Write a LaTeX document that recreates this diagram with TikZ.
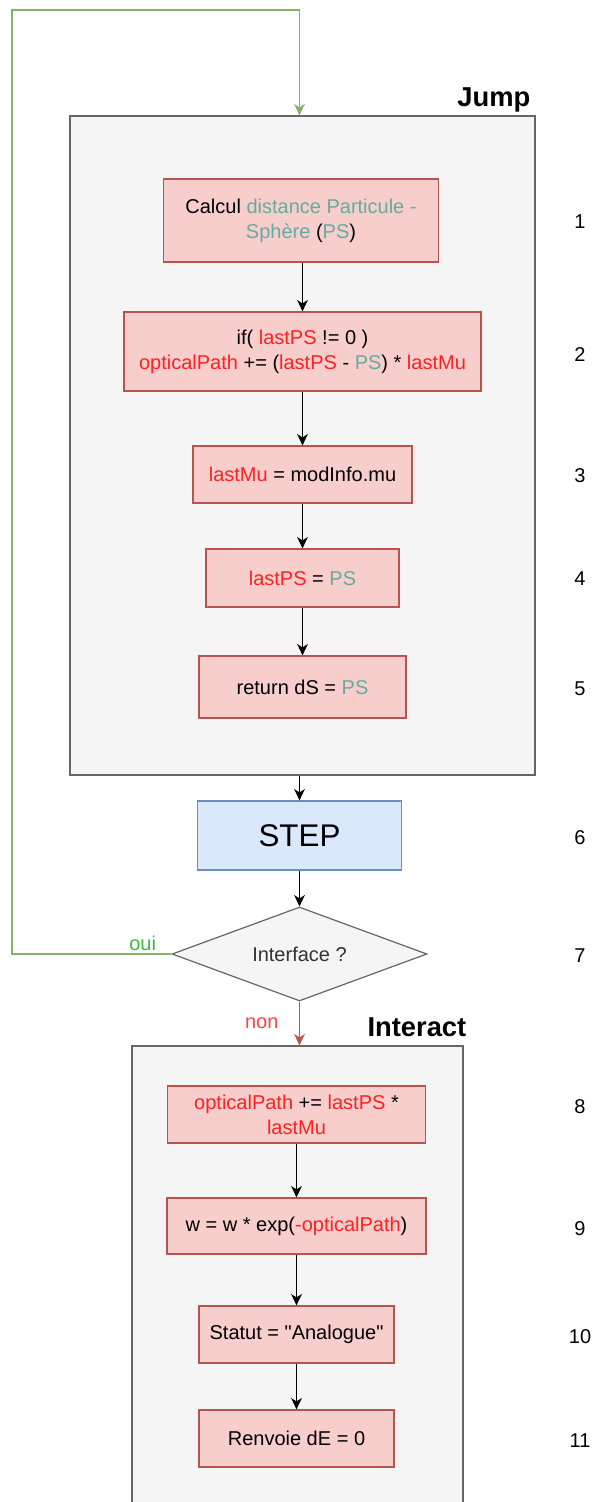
\documentclass[tikz,border=0pt]{standalone}
\usepackage{fontspec}
\setmainfont{Liberation Sans}
\usepackage{tikz}
\usetikzlibrary{positioning,shapes.geometric,arrows.meta}
\definecolor{opfill}{HTML}{F8CECC}
\definecolor{opline}{HTML}{B85450}
\definecolor{panelfill}{HTML}{F5F5F5}
\definecolor{panelline}{HTML}{666666}
\definecolor{stepfill}{HTML}{DAE8FC}
\definecolor{stepline}{HTML}{6C8EBF}
\definecolor{loopgreen}{HTML}{82B366}
\definecolor{ouigreen}{HTML}{3DB83D}
\definecolor{varred}{HTML}{FF2020}
\definecolor{geogreen}{HTML}{67AB9F}
\definecolor{labelgray}{HTML}{333333}
\newcommand{\vred}[1]{\textcolor{varred}{#1}}
\newcommand{\vgeo}[1]{\textcolor{geogreen}{#1}}

\begin{document}
\begin{tikzpicture}[
		x=0.75pt, y=-0.75pt,
		every node/.style={font=\fontsize{15}{18.75}\selectfont},
		panel/.style={
			draw=panelline,
			fill=panelfill,
			line width=0.9pt,
			inner sep=0pt
		},
		op/.style={
			draw=opline,
			fill=opfill,
			line width=0.9pt,
			align=center,
			inner sep=0pt
		},
		stepbox/.style={
			draw=stepline,
			fill=stepfill,
			line width=0.9pt,
			inner sep=0pt,
			font=\fontsize{23.5}{28}\selectfont
		},
		test/.style={
			diamond,
			aspect=2.7,
			draw=panelline,
			fill=panelfill,
			line width=0.9pt,
			inner sep=0pt,
			text=labelgray
		},
		title/.style={font=\bfseries\fontsize{20.5}{24}\selectfont},
		numlabel/.style={font=\fontsize{15}{18}\selectfont},
		flow/.style={
			-{Stealth[length=8.5pt,width=8pt,inset=2.5pt]},
			line width=1pt
		}
	]
		\useasboundingbox (0,0) rectangle (593,1502);
		\clip (0,0) rectangle (593,1502);

		% Jump
		\node[panel, minimum width=348.75pt, minimum height=494.25pt] (jump)
			at (302.5,445.5) {};
		\node[title, anchor=base east] (jump-title) at (535,107) {Jump};

		\node[op, minimum width=206.25pt, minimum height=62.25pt] (dist)
			at (301,220.5)
			{Calcul \vgeo{distance Particule -}\\ \vgeo{Sphère} (\vgeo{PS})};
		\node[op, minimum width=267.75pt, minimum height=59.25pt] (accum)
			at (302.5,351.5)
			{if( \vred{lastPS} != 0 )\\
			\vred{opticalPath} += (\vred{lastPS} - \vgeo{PS}) * \vred{lastMu}};
		\node[op, minimum width=164.25pt, minimum height=42.75pt] (setmu)
			at (302.5,474.5) {\vred{lastMu} = modInfo.mu};
		\node[op, minimum width=144.75pt, minimum height=43.5pt] (setps)
			at (302.5,578) {\vred{lastPS} = \vgeo{PS}};
		\node[op, minimum width=155.25pt, minimum height=46.5pt] (retds)
			at (302.5,687) {return dS = \vgeo{PS}};

		\draw[flow] (dist.south -| accum.north) -- (accum.north);
		\draw[flow] (accum) -- (setmu);
		\draw[flow] (setmu) -- (setps);
		\draw[flow] (setps) -- (retds);

		% STEP and test
		\node[stepbox, minimum width=153pt, minimum height=51.75pt] (step)
			at (299.5,835.5) {STEP};
		\node[test, minimum width=191.25pt, minimum height=70.5pt] (iface)
			at (299.5,954) {Interface ?};

		\draw[flow] (jump.south -| step.north) -- (step.north);
		\draw[flow] (step) -- (iface);

		\coordinate (loop-corner) at (12,10);
		\draw[flow, loopgreen]
			(iface.west)
			-| node[pos=0.09, above=-1pt, text=ouigreen] (oui) {oui}
			(loop-corner)
			-| (jump.north -| iface.north);

		% Interact
		\node[panel, minimum width=248.25pt, minimum height=355.5pt] (interact)
			at (297.5,1283) {};
		\node[title, anchor=base east] (interact-title) at (471,1036) {Interact};

		\draw[flow, opline]
			(iface.south)
			-- node[left=12pt, text=varred!85] (non) {non}
			(iface.south |- interact.north);

		\node[op, minimum width=193.5pt, minimum height=42.75pt] (addpath)
			at (296.5,1114.5)
			{\vred{opticalPath} += \vred{lastPS} *\\ \vred{lastMu}};
		\node[op, minimum width=194.25pt, minimum height=42pt] (weight)
			at (296.5,1226) {w = w * exp(\vred{-opticalPath})};
		\node[op, minimum width=146.25pt, minimum height=42.75pt] (statut)
			at (296.5,1334.5) {Statut = \textquotedbl Analogue\textquotedbl};
		\node[op, minimum width=146.25pt, minimum height=42.75pt] (renvoie)
			at (296.5,1438.5) {Renvoie dE = 0};

		\draw[flow] (addpath) -- (weight);
		\draw[flow] (weight) -- (statut);
		\draw[flow] (statut) -- (renvoie);

		% step numbers
		\foreach \n/\y in {1/222, 2/354.5, 3/475.5, 4/579, 5/689, 6/838,
				7/956, 8/1107, 9/1229, 10/1337, 11/1441}
			\node[numlabel] (num-\n) at (580,\y) {\n};
	\end{tikzpicture}
\end{document}
